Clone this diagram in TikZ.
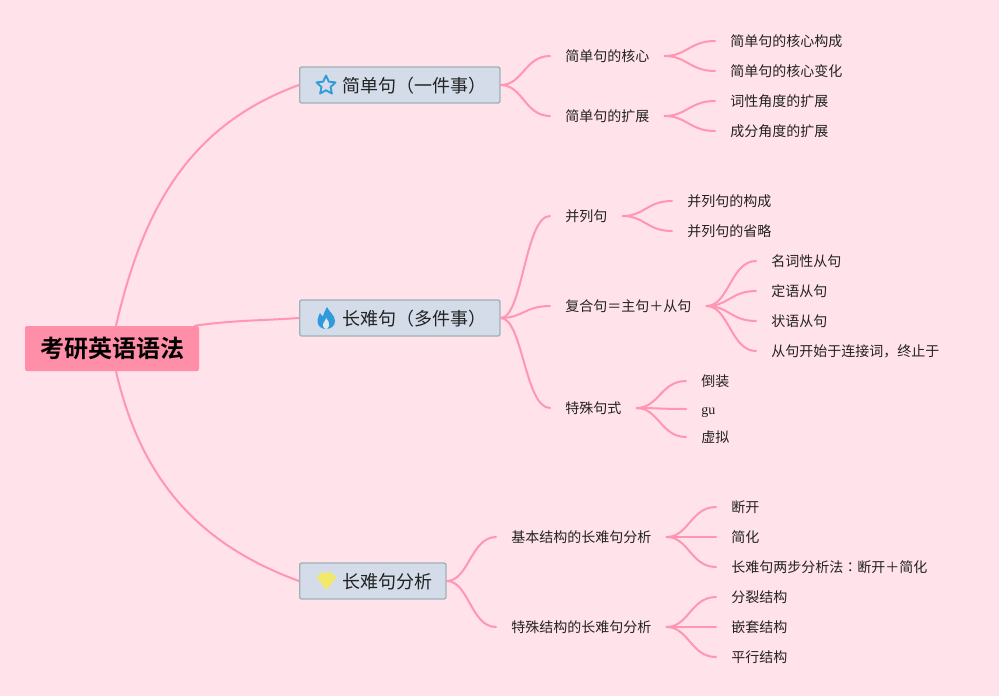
\documentclass[tikz,border=0pt]{standalone}
\usepackage{fontspec}
\newfontfamily\cjk{Noto Sans CJK SC}
\newfontfamily\cjktc{Noto Sans CJK TC}
\newfontfamily\cjkbold[BoldFont={Noto Sans CJK SC Bold}]{Noto Sans CJK SC}
\newfontfamily\latinserif{Liberation Serif}
\usetikzlibrary{shapes,positioning}
\definecolor{mapBack}{RGB}{255, 226, 234}
\definecolor{mapRoot}{RGB}{255, 143, 168}
\definecolor{mapLine}{RGB}{255, 150, 180}
\definecolor{mapTopic}{RGB}{211, 220, 232}
\definecolor{mapEdge}{RGB}{157, 178, 180}
\definecolor{mapText}{RGB}{34, 34, 34}
\definecolor{iconBlue}{RGB}{47, 155, 219}
\definecolor{iconYellow}{RGB}{242, 233, 106}

\begin{document}
\begin{tikzpicture}[x=0.75pt, y=-0.75pt, line cap=round, line join=round,
    rootbox/.style={fill=mapRoot, rounded corners=1.5pt, minimum height=33.75pt, inner xsep=11.25pt, inner ysep=0pt, text=black, font=\fontsize{18}{20}\cjkbold\bfseries},
    topicbox/.style={anchor=west, draw=mapEdge, line width=1pt, fill=mapTopic, rounded corners=1.5pt, minimum height=27pt, text height=14.5pt, text depth=3pt, inner xsep=10pt, inner ysep=0pt, text=mapText, font=\fontsize{13.5}{16}\cjk},
    leafbox/.style={anchor=west, inner xsep=11.25pt, inner ysep=2pt, text height=10pt, text depth=2pt, text=mapText, font=\fontsize{10.5}{13}\cjk},
    branch/.style={draw=mapLine, line width=1.5pt},
    trunk/.style={draw=mapLine, line width=1.5pt}]
        \fill[mapBack] (0,0) rectangle (999,696);
        \useasboundingbox (0,0) rectangle (999,696);
        % root and main topics
        \node[rootbox] (root) at (112,348.5) {考研英语语法};
        \node[topicbox] (simple) at (299,85) {\hspace*{22.25pt}简单句（一件事）};
        \node[topicbox] (long) at (299,318) {\hspace*{22.25pt}长难句（多件事）};
        \node[topicbox] (analysis) at (299,581) {\hspace*{22.25pt}长难句分析};
        % icons
        \node[star, star points=5, star point ratio=2.1, draw=iconBlue, line width=1.4pt, minimum size=15pt, inner sep=0pt] (staricon) at (326,85.5) {};
        \fill[iconBlue] (327,307) .. controls (329,312) and (335,315) .. (335,321)
            .. controls (335,326) and (331,329) .. (326,329)
            .. controls (321,329) and (317,326) .. (317.5,320)
            .. controls (318,317) and (319,315) .. (320,313)
            .. controls (321,315) and (322,316) .. (323,316)
            .. controls (324,313) and (325,310) .. (327,307) -- cycle;
        \fill[mapTopic!70!white] (326,329) .. controls (323,328) and (322,325) .. (324,322)
            .. controls (325,321) and (326,319) .. (326,318)
            .. controls (328,320) and (330,323) .. (329,326) .. controls (328.5,328) and (327,329) .. (326,329) -- cycle;
        \fill[iconYellow] (321,572.5) -- (332,572.5) -- (336,578) -- (326.5,590) -- (317,578) -- cycle;
        % second level
        \node[leafbox] (core) at (550,56) {简单句的核心};
        \node[leafbox] (extend) at (550,116) {简单句的扩展};
        \node[leafbox] (parallel) at (550,216) {并列句};
        \node[leafbox] (compound) at (550,306) {复合句＝主句＋从句};
        \node[leafbox] (special) at (550,408) {特殊句式};
        \node[leafbox] (basicA) at (496,537) {基本结构的长难句分析};
        \node[leafbox] (specialA) at (496,627) {特殊结构的长难句分析};
        % third level
        \node[leafbox] (coreA) at (715,41) {简单句的核心构成};
        \node[leafbox] (coreB) at (715,71) {简单句的核心变化};
        \node[leafbox] (extendA) at (715,101) {词性角度的扩展};
        \node[leafbox] (extendB) at (715,131) {成分角度的扩展};
        \node[leafbox] (parallelA) at (672,201) {并列句的构成};
        \node[leafbox] (parallelB) at (672,231) {并列句的省略};
        \node[leafbox] (compoundA) at (756,261) {名词性从句};
        \node[leafbox] (compoundB) at (756,291) {定语从句};
        \node[leafbox] (compoundC) at (756,321) {状语从句};
        \node[leafbox] (compoundD) at (756,351) {从句开始于连接词，终止于};
        \node[leafbox] (specialX) at (686,381) {倒装};
        \node[leafbox] (specialY) at (686,409) {\latinserif gu};
        \node[leafbox] (specialZ) at (686,437) {虚拟};
        \node[leafbox] (basicX) at (716,507) {断开};
        \node[leafbox] (basicY) at (716,537) {简化};
        \node[leafbox] (basicZ) at (716,567) {长难句两步分析法{\cjktc ：}断开＋简化};
        \node[leafbox] (specialP) at (716,597) {分裂结构};
        \node[leafbox] (specialQ) at (716,627) {嵌套结构};
        \node[leafbox] (specialR) at (716,657) {平行结构};
        % connectors
        \draw[trunk] ([xshift=3pt]root.north) to[out=77,in=200] (simple.west);
        \draw[trunk] ([xshift=62pt]root.north) to[out=8,in=184] (long.west);
        \draw[trunk] ([xshift=3pt]root.south) to[out=-77,in=160] (analysis.west);
        \foreach \from/\to in {simple/core, simple/extend, long/parallel, long/compound, long/special,
            analysis/basicA, analysis/specialA, core/coreA, core/coreB, extend/extendA, extend/extendB,
            parallel/parallelA, parallel/parallelB, compound/compoundA, compound/compoundB,
            compound/compoundC, compound/compoundD, special/specialX, special/specialY, special/specialZ,
            basicA/basicX, basicA/basicY, basicA/basicZ, specialA/specialP, specialA/specialQ, specialA/specialR}
            \draw[branch] (\from.east) .. controls +(22,0) and +(-25,0) .. (\to.west);
    \end{tikzpicture}
\end{document}
